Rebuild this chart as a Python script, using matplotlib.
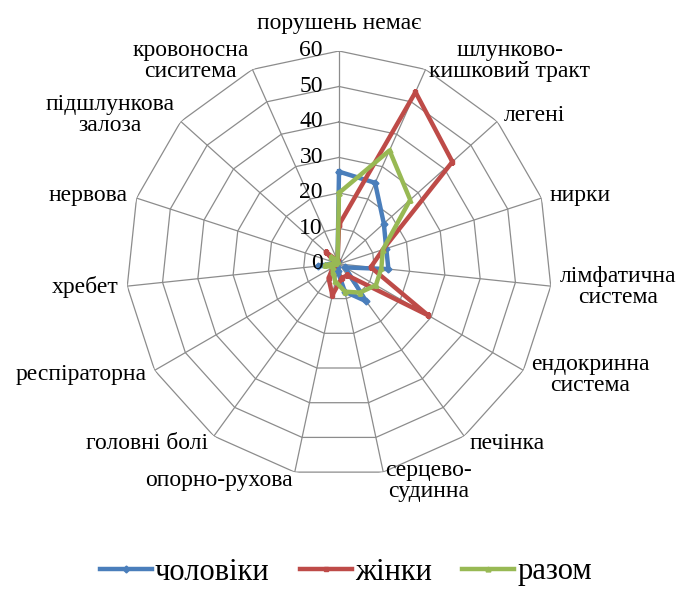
import numpy as np
import matplotlib
matplotlib.use('Agg')
import matplotlib.pyplot as plt

plt.rcParams['font.family'] = ['Liberation Serif', 'DejaVu Serif']

# categories, clockwise from the top
categories = ['порушень немає', 'шлунково-\nкишковий тракт', 'легені', 'нирки',
              'лімфатична\nсистема', 'ендокринна\nсистема', 'печінка',
              'серцево-\nсудинна', 'опорно-рухова', 'головні болі',
              'респіраторна', 'хребет', 'нервова', 'підшлункова\nзалоза',
              'кровоносна\nсиситема']

men   = [26, 25, 17, 14, 14, 2, 13, 8, 2, 1, 1, 6, 1, 1, 1]
women = [11, 53, 43, 13, 9, 29, 4, 4, 9, 5, 2, 1, 1, 5, 1]
total = [20, 35, 27, 13, 12, 12, 10, 8, 5, 3, 2, 4, 1, 3, 1]

series_names = ['чоловіки', 'жінки', 'разом']
rings = [10, 20, 30, 40, 50, 60]
tick_vals = [0, 10, 20, 30, 40, 50, 60]

n = len(categories)
angles = np.arange(n) * 2 * np.pi / n
closed = np.append(angles, angles[0])

fig = plt.figure(figsize=(6.78, 5.91), dpi=100)
ax = fig.add_axes([0.186, 0.193, 0.628, 0.721], polar=True)
ax.set_theta_zero_location('N')
ax.set_theta_direction(-1)
ax.set_ylim(0, 60)
ax.grid(False)
ax.set_xticks([])
ax.set_yticks([])
ax.spines['polar'].set_visible(False)
ax.patch.set_alpha(0)

grid_col = '#8c8c8c'
# polygon web
for r in rings:
    ax.plot(closed, [r] * (n + 1), color=grid_col, lw=0.9, zorder=1)
for a in angles:
    ax.plot([a, a], [0, 60], color=grid_col, lw=0.9, zorder=1)

# value labels on the top spoke
for v in tick_vals:
    ax.annotate(str(v), xy=(0, v), xytext=(-16, 0), textcoords='offset pixels',
                ha='right', va='center', fontsize=17, zorder=5)

# category labels
for a, lab in zip(angles, categories):
    s, c = np.sin(a), np.cos(a)
    if s > 0.05:
        ha = 'left'
    elif s < -0.05:
        ha = 'right'
    else:
        ha = 'center'
    va = 'bottom' if c > 0.99 else 'center'
    off = 9
    ax.annotate(lab, xy=(a, 60), xytext=(s * off, c * off + (8 if c > 0.99 else 0)),
                textcoords='offset pixels', ha=ha, va=va, ma='center',
                fontsize=17, linespacing=1.0)

colors = ['#4a7ebb', '#be4b48', '#98b954']
markers = ['D', 's', '^']
for vals, col, mk, name in zip([men, women, total], colors, markers, series_names):
    v = np.append(vals, vals[0])
    ax.plot(closed, v, color=col, lw=3.2, marker=mk, ms=3.5, label=name, zorder=3)

handles, labels = ax.get_legend_handles_labels()
fig.legend(handles, labels, loc='center', bbox_to_anchor=(0.51, 1 - 572 / 591),
           ncol=3, frameon=False, fontsize=22, handlelength=1.7,
           handletextpad=0.1, columnspacing=1.0)

fig.savefig('out.png', dpi=100)
